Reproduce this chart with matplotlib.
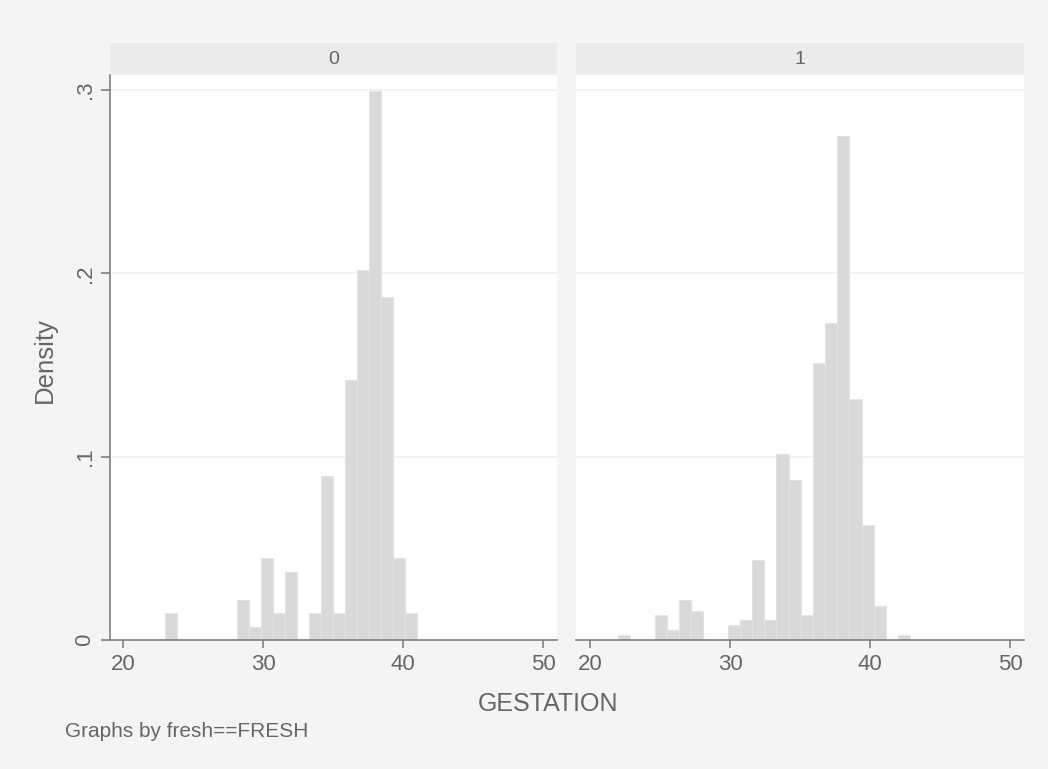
import numpy as np
import matplotlib.pyplot as plt

# ── data (densities) ───────────────────────────────────────────────────────────
panels = ["0", "1"]

# fresh == 0 : 21 bins from 23 to 41
bin_start_0 = 23.0
bin_width_0 = 18 / 21
density_0 = [0.0146, 0, 0, 0, 0, 0, 0.022, 0.0069, 0.0446, 0.0146, 0.037,
             0, 0.0146, 0.0895, 0.0146, 0.142, 0.202, 0.2996, 0.187, 0.0446,
             0.0146]

# fresh == 1 : 24 bins from 22
bin_start_1 = 22.0
bin_width_1 = 0.87
density_1 = [0.0025, 0, 0, 0.0136, 0.0052, 0.0218, 0.016, 0, 0, 0.008,
             0.0109, 0.0435, 0.0109, 0.1015, 0.0874, 0.0136, 0.151, 0.173,
             0.2747, 0.1316, 0.0628, 0.0188, 0, 0.0025]

x_ticks = [20, 30, 40, 50]
y_ticks = [0, 0.1, 0.2, 0.3]
y_ticklabels = ["0", ".1", ".2", ".3"]

# ── style ─────────────────────────────────────────────────────────────────────
plt.rcParams["font.family"] = ["Liberation Sans", "DejaVu Sans"]

BG     = "#f4f4f4"
STRIP  = "#ebebeb"
BAR    = "#d9d9d9"
AXIS   = "#808080"
TEXT   = "#666666"
GRID   = "#f1f1f1"

W, H = 1048, 769
fig = plt.figure(figsize=(W / 100, H / 100), dpi=100, facecolor=BG)

bottom, top = 1 - 640 / H, 1 - 75 / H
strip_top = 1 - 42.5 / H
lefts  = [109.5 / W, 576 / W]
rights = [557 / W, 1024 / W]

data = [(bin_start_0, bin_width_0, density_0), (bin_start_1, bin_width_1, density_1)]

for i, (label, (start, width, dens)) in enumerate(zip(panels, data)):
    ax = fig.add_axes([lefts[i], bottom, rights[i] - lefts[i], top - bottom])
    ax.set_facecolor("white")
    edges = start + width * np.arange(len(dens))
    ax.bar(edges, dens, width=width, align="edge", color=BAR,
           edgecolor="#e4e4e4", linewidth=0.8, zorder=2)
    ax.set_xlim(19, 51)
    ax.set_ylim(0, 0.3082)
    for y in y_ticks[1:]:
        ax.axhline(y, color=GRID, linewidth=1.2, zorder=1)

    for s in ["top", "right"]:
        ax.spines[s].set_visible(False)
    ax.spines["bottom"].set_color(AXIS)
    ax.spines["bottom"].set_linewidth(1.2)
    ax.set_xticks(x_ticks)
    ax.set_xticklabels([str(t) for t in x_ticks])
    ax.tick_params(axis="x", length=6, width=1.2, color=AXIS, labelcolor=TEXT,
                   labelsize=16, pad=4)
    if i == 0:
        ax.spines["left"].set_color(AXIS)
        ax.spines["left"].set_linewidth(1.2)
        ax.set_yticks(y_ticks)
        ax.set_yticklabels(y_ticklabels, rotation=90, va="center")
        ax.tick_params(axis="y", length=6.5, width=1.2, color=AXIS, labelcolor=TEXT,
                       labelsize=16, pad=3.5)
    else:
        ax.spines["left"].set_visible(False)
        ax.set_yticks([])

    # strip header
    sax = fig.add_axes([lefts[i], top + 1 / H, rights[i] - lefts[i], strip_top - top - 1 / H])
    sax.set_facecolor(STRIP)
    sax.set_xticks([])
    sax.set_yticks([])
    for s in sax.spines.values():
        s.set_visible(False)
    sax.text(0.5, 0.47, label, ha="center", va="center", color=TEXT, fontsize=14,
             transform=sax.transAxes)

fig.text(52 / W, 1 - 360 / H, "Density", rotation=90, rotation_mode="anchor",
         ha="center", va="baseline", color=TEXT, fontsize=18.5)
fig.text(548 / W, 1 - 711 / H, "GESTATION", ha="center", va="baseline",
         color=TEXT, fontsize=18)
fig.text(65 / W, 1 - 737 / H, "Graphs by fresh==FRESH", ha="left", va="baseline",
         color=TEXT, fontsize=15)

plt.savefig("out.png", dpi=100, facecolor=BG)
